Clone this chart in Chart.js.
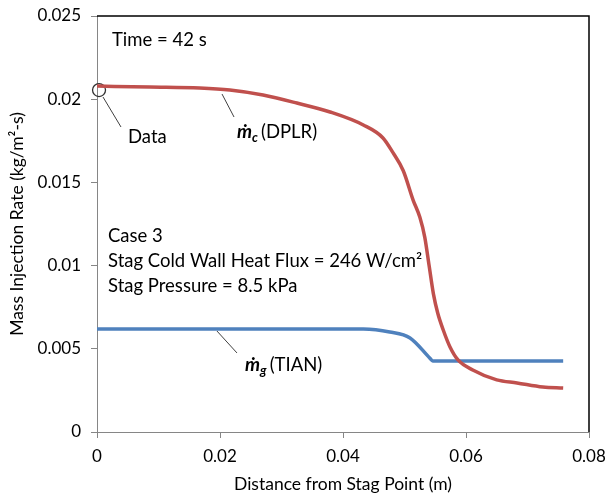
<!DOCTYPE html>
<html>
<head>
<meta charset="utf-8">
<script src="https://cdn.jsdelivr.net/npm/chart.js@4.4.0/dist/chart.umd.min.js"></script>
<style>
  html, body { margin: 0; padding: 0; background: #fff; }
  #wrap { width: 605px; height: 495px; }
</style>
</head>
<body>
<div id="wrap"><canvas id="c" width="605" height="495"></canvas></div>
<script>
// ---- data ----
const dplrX = [0, 0.0086, 0.0167, 0.0216, 0.0270, 0.0325, 0.0379, 0.0433, 0.0465, 0.0481, 0.0498, 0.0514, 0.0525, 0.0533, 0.0540, 0.0547, 0.0554, 0.0563, 0.0574, 0.0587, 0.0611, 0.0650, 0.0683, 0.0725, 0.0758];
const dplrY = [0.02079, 0.02073, 0.02067, 0.02055, 0.02025, 0.01977, 0.01923, 0.01845, 0.01767, 0.01680, 0.01570, 0.01394, 0.01290, 0.01170, 0.01000, 0.00830, 0.00715, 0.00613, 0.00511, 0.00433, 0.00373, 0.00313, 0.00295, 0.00270, 0.00264];
const tianX = [0, 0.0433, 0.0476, 0.0509, 0.0541, 0.0546, 0.0758];
const tianY = [0.00619, 0.00619, 0.00601, 0.00565, 0.00445, 0.00427, 0.00427];
const dataPointX = [0.00033];
const dataPointY = [0.02055];
const xTicks = [0, 0.02, 0.04, 0.06, 0.08];
const yTicks = [0, 0.005, 0.01, 0.015, 0.02, 0.025];
const xTitle = 'Distance from Stag Point (m)';
const yTitle = 'Mass Injection Rate (kg/m\u00B2-s)';
const timeText = 'Time = 42 s';
const caseLines = ['Case 3', 'Stag Cold Wall Heat Flux = 246 W/cm\u00B2', 'Stag Pressure = 8.5 kPa'];

const FONT = 'Lato, "Open Sans", sans-serif';

function pts(xs, ys) { return xs.map((x, i) => ({ x: x, y: ys[i] })); }

const annotPlugin = {
  id: 'annot',
  afterDraw(chart) {
    const ctx = chart.ctx;
    const xs = chart.scales.x, ys = chart.scales.y;
    const X = v => xs.getPixelForValue(v), Y = v => ys.getPixelForValue(v);
    const a = chart.chartArea;
    ctx.save();
    // top and right frame
    ctx.strokeStyle = '#000';
    ctx.lineWidth = 1.5;
    ctx.beginPath();
    ctx.moveTo(a.left, a.top);
    ctx.lineTo(a.right, a.top);
    ctx.lineTo(a.right, a.bottom);
    ctx.stroke();

    ctx.fillStyle = '#000';
    ctx.textBaseline = 'middle';
    ctx.textAlign = 'left';
    ctx.font = '18.5px ' + FONT;
    ctx.fillText(timeText, X(0.00244), Y(0.02356));
    ctx.fillText('Data', X(0.00504), Y(0.01773));
    const caseY = [0.01178, 0.01028, 0.00877];
    caseLines.forEach((t, i) => ctx.fillText(t, X(0.00179), Y(caseY[i])));

    // leader lines
    ctx.strokeStyle = '#404040';
    ctx.lineWidth = 1;
    const lead = [[0.00098, 0.02013, 0.0039, 0.01833], [0.02033, 0.02031, 0.02228, 0.01893], [0.0195, 0.00607, 0.02276, 0.00475]];
    lead.forEach(l => { ctx.beginPath(); ctx.moveTo(X(l[0]), Y(l[1])); ctx.lineTo(X(l[2]), Y(l[3])); ctx.stroke(); });

    // m-dot labels
    function mdot(x, y, sub, rest) {
      let px = X(x), py = Y(y);
      ctx.font = 'italic bold 19px ' + FONT;
      ctx.fillText('\u1E41', px, py);
      px += ctx.measureText('\u1E41').width;
      ctx.font = 'italic bold 13px ' + FONT;
      ctx.fillText(sub, px, py + 6);
      px += ctx.measureText(sub).width + 3;
      ctx.font = '18.5px ' + FONT;
      ctx.fillText(rest, px, py);
    }
    mdot(0.02276, 0.01803, 'c', '(DPLR)');
    mdot(0.02407, 0.00403, 'g', '(TIAN)');
    ctx.restore();
  }
};

const fmt = v => String(Number(Number(v).toFixed(3)));

new Chart(document.getElementById('c'), {
  type: 'scatter',
  data: {
    datasets: [
      { label: 'DPLR', data: pts(dplrX, dplrY), showLine: true, borderColor: '#C0504D', borderWidth: 3.5, pointRadius: 0, cubicInterpolationMode: 'monotone' },
      { label: 'TIAN', data: pts(tianX, tianY), showLine: true, borderColor: '#4F81BD', borderWidth: 3.5, pointRadius: 0, cubicInterpolationMode: 'monotone' },
      { label: 'Data', data: pts(dataPointX, dataPointY), showLine: false, clip: false, pointRadius: 6.5, pointBorderWidth: 1.3, pointBorderColor: '#303030', pointBackgroundColor: 'rgba(0,0,0,0)' }
    ]
  },
  options: {
    responsive: false,
    animation: false,
    layout: { padding: { left: 0, top: 16, right: 16, bottom: 0 } },
    plugins: { legend: { display: false }, tooltip: { enabled: false } },
    scales: {
      x: {
        type: 'linear', min: 0, max: 0.08,
        afterBuildTicks: s => { s.ticks = xTicks.map(v => ({ value: v })); },
        afterFit: s => { s.height = 63; s.paddingRight = 0; s.paddingLeft = 0; },
        grid: { drawOnChartArea: false, drawTicks: true, tickLength: 6, color: '#868686' },
        border: { color: '#868686', width: 1 },
        ticks: { font: { family: FONT, size: 17 }, color: '#000', padding: 8, callback: fmt, maxRotation: 0 },
        title: { display: true, text: xTitle, font: { family: FONT, size: 17.5 }, color: '#000', padding: { top: 2, bottom: 0 } }
      },
      y: {
        type: 'linear', min: 0, max: 0.025,
        afterBuildTicks: s => { s.ticks = yTicks.map(v => ({ value: v })); },
        afterFit: s => { s.width = 97; s.paddingTop = 0; s.paddingBottom = 0; },
        grid: { drawOnChartArea: false, drawTicks: true, tickLength: 6, color: '#868686' },
        border: { color: '#868686', width: 1 },
        ticks: { font: { family: FONT, size: 17 }, color: '#000', padding: 10, callback: fmt },
        title: { display: true, text: yTitle, font: { family: FONT, size: 17.5 }, color: '#000', padding: { top: 7, bottom: 4 } }
      }
    }
  },
  plugins: [annotPlugin]
});
</script>
</body>
</html>
